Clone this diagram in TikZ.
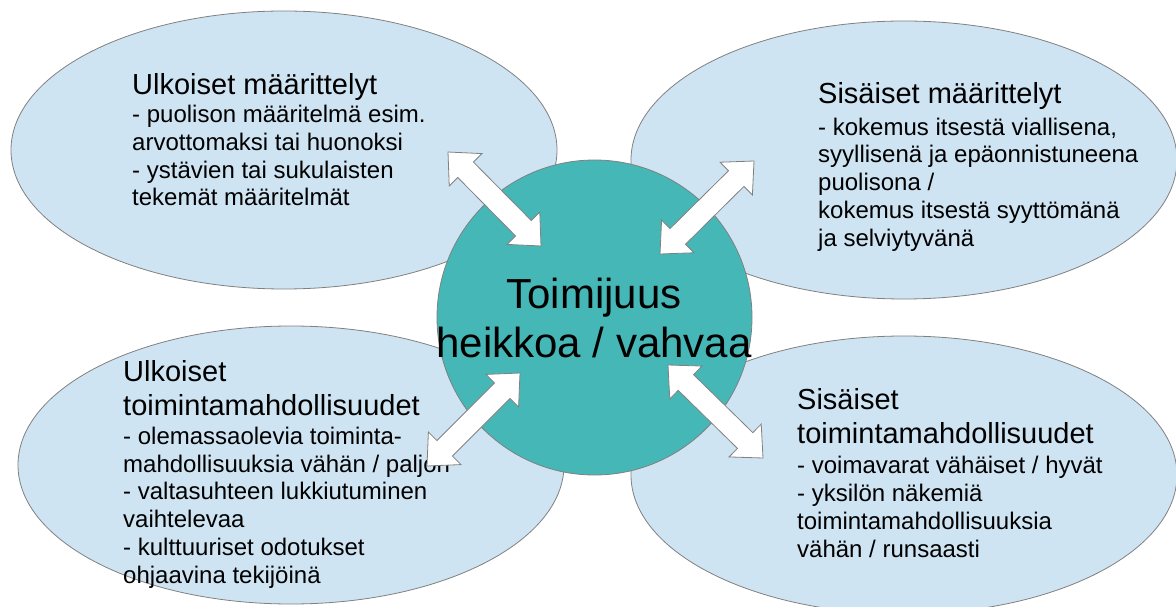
\documentclass[tikz,border=0pt]{standalone}
\usepackage{fontspec}
\setmainfont{Liberation Sans}
\usetikzlibrary{calc,shapes.geometric}
\definecolor{ellfill}{RGB}{207,228,242}
\definecolor{corefill}{RGB}{70,183,183}
\definecolor{edgegray}{RGB}{128,128,128}
\tikzset{
  ell/.style={ellipse, draw=edgegray, line width=0.8pt, fill=ellfill, minimum width=546pt, minimum height=278pt, inner sep=0pt},
  core/.style={circle, draw=edgegray, line width=0.8pt, fill=corefill, minimum size=315pt, inner sep=0pt},
  ttl/.style={font=\fontsize{29}{33.5}\selectfont, align=left, anchor=base west, inner sep=0pt},
  bdy/.style={font=\fontsize{24}{27.7}\selectfont, align=left, anchor=base west, inner sep=0pt},
  ctext/.style={font=\fontsize{42}{49}\selectfont, align=center, anchor=base, inner sep=0pt},
  blockarr/.style={draw=edgegray, line width=0.8pt, fill=white, line join=miter}
}
\newcommand\dblblockarrow[3]{%
  \coordinate (#1p) at ($(#2)!25pt!(#3)$);
  \coordinate (#1q) at ($(#3)!25pt!(#2)$);
  \draw[blockarr] (#2) -- ($(#1p)!23pt!90:(#3)$) -- ($(#1p)!11pt!90:(#3)$)
    -- ($(#1q)!11pt!-90:(#2)$) -- ($(#1q)!23pt!-90:(#2)$) -- (#3)
    -- ($(#1q)!23pt!90:(#2)$) -- ($(#1q)!11pt!90:(#2)$)
    -- ($(#1p)!11pt!-90:(#3)$) -- ($(#1p)!23pt!-90:(#3)$) -- cycle;
}
\begin{document}
\begin{tikzpicture}[x=1pt,y=-1pt]
\useasboundingbox (0,0) rectangle (1176,607);
\clip (0,0) rectangle (1176,607);
\fill[white] (0,0) rectangle (1176,607);
% ellipses
\node[ell] (tl) at (284,150) {};
\node[ell] (tr) at (904,160) {};
\node[ell] (bl) at (291,465) {};
\node[ell] (br) at (904,475) {};
% centre circle
\node[core] (c) at (594.5,317.5) {};
% texts (anchor = baseline of the last line)
\node[ttl] (tlt) at (132,95) {Ulkoiset määrittelyt};
\node[bdy] (tlb) at (132,206) {- puolison määritelmä esim.\\arvottomaksi tai huonoksi\\- ystävien tai sukulaisten\\tekemät määritelmät};
\node[ttl] (trt) at (818,104) {Sisäiset määrittelyt};
\node[bdy] (trb) at (818,246) {- kokemus itsestä viallisena,\\syyllisenä ja epäonnistuneena\\puolisona /\\kokemus itsestä syyttömänä\\ja selviytyvänä};
\node[ttl] (blt) at (123,415) {Ulkoiset\\toimintamahdollisuudet};
\node[bdy] (blb) at (123,583) {- olemassaolevia toiminta-\\mahdollisuuksia vähän / paljon\\- valtasuhteen lukkiutuminen\\vaihtelevaa\\- kulttuuriset odotukset\\ohjaavina tekijöinä};
\node[ttl] (brt) at (797,443) {Sisäiset\\toimintamahdollisuudet};
\node[bdy] (brb) at (797,557) {- voimavarat vähäiset / hyvät\\- yksilön näkemiä\\toimintamahdollisuuksia\\vähän / runsaasti};
\node[ctext] (ct) at (594,357) {Toimijuus\\heikkoa / vahvaa};
% arrow end points
\coordinate (a1s) at (448,152);
\coordinate (a1e) at (541,246);
\coordinate (a2s) at (660,254);
\coordinate (a2e) at (754,161);
\coordinate (a3s) at (427,466);
\coordinate (a3e) at (520,373);
\coordinate (a4s) at (668,365);
\coordinate (a4e) at (763,458);
\dblblockarrow{k1}{a1s}{a1e}
\dblblockarrow{k2}{a2s}{a2e}
\dblblockarrow{k3}{a3s}{a3e}
\dblblockarrow{k4}{a4s}{a4e}
\end{tikzpicture}
\end{document}
